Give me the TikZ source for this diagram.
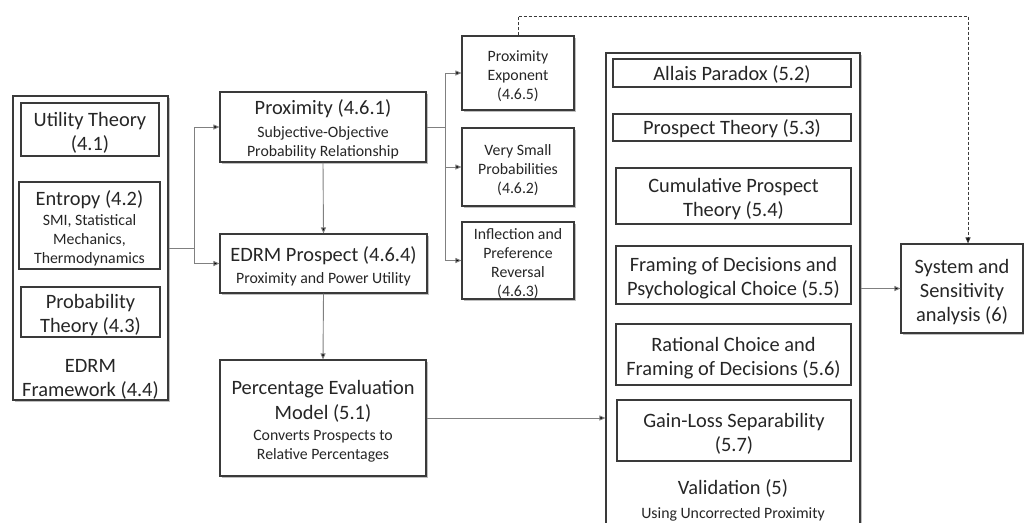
\documentclass[tikz,border=0pt]{standalone}
\usepackage{fontspec}
\setmainfont{Carlito}
\usetikzlibrary{arrows.meta,shadows,calc}
\definecolor{bordercol}{HTML}{3A3A3A}
\definecolor{linecol}{HTML}{808080}
\newcommand\bigf{\fontsize{20.4}{24}\selectfont}
\newcommand\smlf{\fontsize{15.8}{19}\selectfont}
\newcommand\tpb{\rule{0pt}{20.5pt}}
\newcommand\tps{\rule{0pt}{16.5pt}}
\newcommand\tpo{\rule{0pt}{18pt}}
\tikzset{
  box/.style={draw=bordercol, line width=1.1pt, fill=white, align=center, inner sep=0pt, text=black!85, font=\bigf},
  shbox/.style={box, drop shadow={shadow xshift=2pt, shadow yshift=-2pt, fill=black, opacity=0.25}},
  conn/.style={draw=linecol, line width=0.9pt, -{Triangle[length=6pt,width=5pt,fill=black]}},
  plain/.style={draw=linecol, line width=0.9pt},
  dashconn/.style={draw=bordercol, line width=0.9pt, dash pattern=on 3pt off 2pt, -{Triangle[length=6pt,width=5pt,fill=black]}},
  lbl/.style={align=center, inner sep=0pt, text=black!85, font=\bigf}
}
\begin{document}
\begin{tikzpicture}[x=1pt,y=-1pt]
\useasboundingbox (0,0) rectangle (1024,522);
\clip (0,0) rectangle (1024,522);
% EDRM framework
\node[shbox, minimum width=155pt, minimum height=304pt] (frame) at (90.5,248) {};
\node[box, minimum width=138pt, minimum height=53pt] (ut) at (90,129.5) {\tpb Utility Theory\\(4.1)};
\node[box, font=\smlf, minimum width=141pt, minimum height=87pt] (ent) at (89.5,225.5) {{\bigf\tpb Entropy (4.2)}\\[1pt]SMI, Statistical\\Mechanics,\\Thermodynamics};
\node[box, minimum width=139pt, minimum height=50pt] (prob) at (90.5,312) {\tpb Probability\\Theory (4.3)};
\node[lbl] (framelbl) at (90.5,379) {EDRM\\Framework (4.4)};
% middle column
\node[shbox, font=\smlf, minimum width=206pt, minimum height=70pt] (prox) at (323,127) {{\bigf\tpb Proximity (4.6.1)}\\[4pt]Subjective-Objective\\Probability Relationship};
\node[shbox, font=\smlf, minimum width=207pt, minimum height=59pt] (edrm) at (323.5,263.5) {{\bigf\tpb EDRM Prospect (4.6.4)}\\[3pt]Proximity and Power Utility};
\node[shbox, font=\smlf, minimum width=206pt, minimum height=116pt] (pem) at (323,418) {{\bigf\tpb Percentage Evaluation}\\[6pt]{\bigf Model (5.1)}\\[2pt]Converts Prospects to\\Relative Percentages};
% small column
\node[shbox, font=\smlf, minimum width=112pt, minimum height=74pt] (pe) at (518,73) {\tps Proximity\\Exponent\\(4.6.5)};
\node[shbox, font=\smlf, minimum width=112pt, minimum height=78pt] (vsp) at (518,167) {\tps Very Small\\Probabilities\\(4.6.2)};
\node[shbox, font=\smlf, minimum width=112pt, minimum height=77pt] (inf) at (518,260.5) {\tps Inflection and\\Preference\\Reversal\\(4.6.3)};
% validation
\node[shbox, minimum width=254pt, minimum height=507pt] (val) at (733,306.5) {};
\node[box, minimum width=238pt, minimum height=28pt] (allais) at (732,73) {\tpo Allais Paradox (5.2)};
\node[box, minimum width=238pt, minimum height=27pt] (pt) at (732,127.5) {\tpo Prospect Theory (5.3)};
\node[box, minimum width=235pt, minimum height=56pt] (cpt) at (733.5,196) {\tpb Cumulative Prospect\\Theory (5.4)};
\node[box, minimum width=235pt, minimum height=58pt] (frm) at (733.5,275) {\tpb Framing of Decisions and\\Psychological Choice (5.5)};
\node[box, minimum width=235pt, minimum height=61pt] (rat) at (733.5,354.5) {\tpb Rational Choice and\\Framing of Decisions (5.6)};
\node[box, minimum width=234pt, minimum height=61pt] (gl) at (734,430.5) {\tpb Gain-Loss Separability\\(5.7)};
\node[lbl, anchor=base] (vallbl) at (733,494) {Validation (5)};
\node[lbl, font=\smlf, anchor=base] (valsub) at (733,518) {Using Uncorrected Proximity};
% system
\node[shbox, minimum width=122pt, minimum height=89pt] (sys) at (962,288.5) {\tpb System and\\Sensitivity\\analysis (6)};
% connectors
\coordinate (j1) at (194,248);
\coordinate (j2) at (445,127);
\coordinate (top) at (518,16);
\coordinate (sysin) at ($(sys.north)+(6,0)$);
\draw[plain] (frame.east) -- (j1);
\draw[conn] (j1) |- (prox.west);
\draw[conn] (j1) |- (edrm.west);
\draw[conn] (prox.south) -- (edrm.north);
\draw[conn] (edrm.south) -- (pem.north);
\draw[plain] (prox.east) -- (j2);
\draw[conn] (j2) |- (pe.west);
\draw[conn] (j2) |- (vsp.west);
\draw[conn] (j2) |- (inf.west);
\draw[conn] (pem.east) -- (pem.east -| val.west);
\draw[conn] (sys.west -| val.east) -- (sys.west);
\draw[dashconn] (pe.north) -- (top) -| (sysin);
\end{tikzpicture}
\end{document}
